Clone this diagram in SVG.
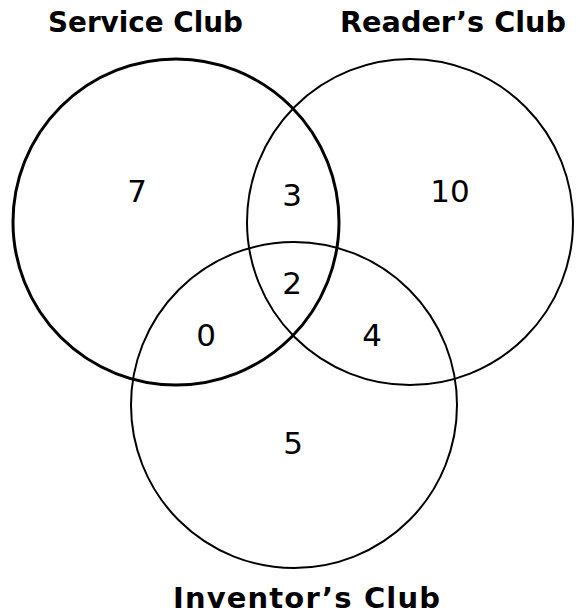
<svg xmlns="http://www.w3.org/2000/svg" width="578" height="614" viewBox="0 0 578 614">
<style>
.c{fill:none;stroke:#000;stroke-width:2}
.lbl{font-family:"DejaVu Sans",Verdana,sans-serif;font-weight:bold;font-size:29px;fill:#000}
.n{font-family:"DejaVu Sans",Verdana,sans-serif;font-size:31px;text-anchor:middle;fill:#000}
</style>
<rect width="578" height="614" fill="#fff"/>
<g id="service">
<circle class="c" cx="176" cy="222" r="163" style="stroke-width:3"/>
<text class="lbl" x="48" y="32" textLength="195" lengthAdjust="spacingAndGlyphs">Service Club</text>
</g>
<g id="reader">
<circle class="c" cx="410" cy="222" r="163"/>
<text class="lbl" x="340" y="32" textLength="226" lengthAdjust="spacingAndGlyphs">Reader’s Club</text>
</g>
<g id="inventor">
<circle class="c" cx="294" cy="405" r="163"/>
<text class="lbl" x="173" y="608" textLength="267" lengthAdjust="spacing">Inventor’s Club</text>
</g>
<g id="regions">
<text class="n" x="137" y="202">7</text>
<text class="n" x="450" y="202">10</text>
<text class="n" x="292" y="206">3</text>
<text class="n" x="292" y="294">2</text>
<text class="n" x="206" y="346">0</text>
<text class="n" x="372" y="346">4</text>
<text class="n" x="293" y="454">5</text>
</g>
<g id="connectors"/>
</svg>
